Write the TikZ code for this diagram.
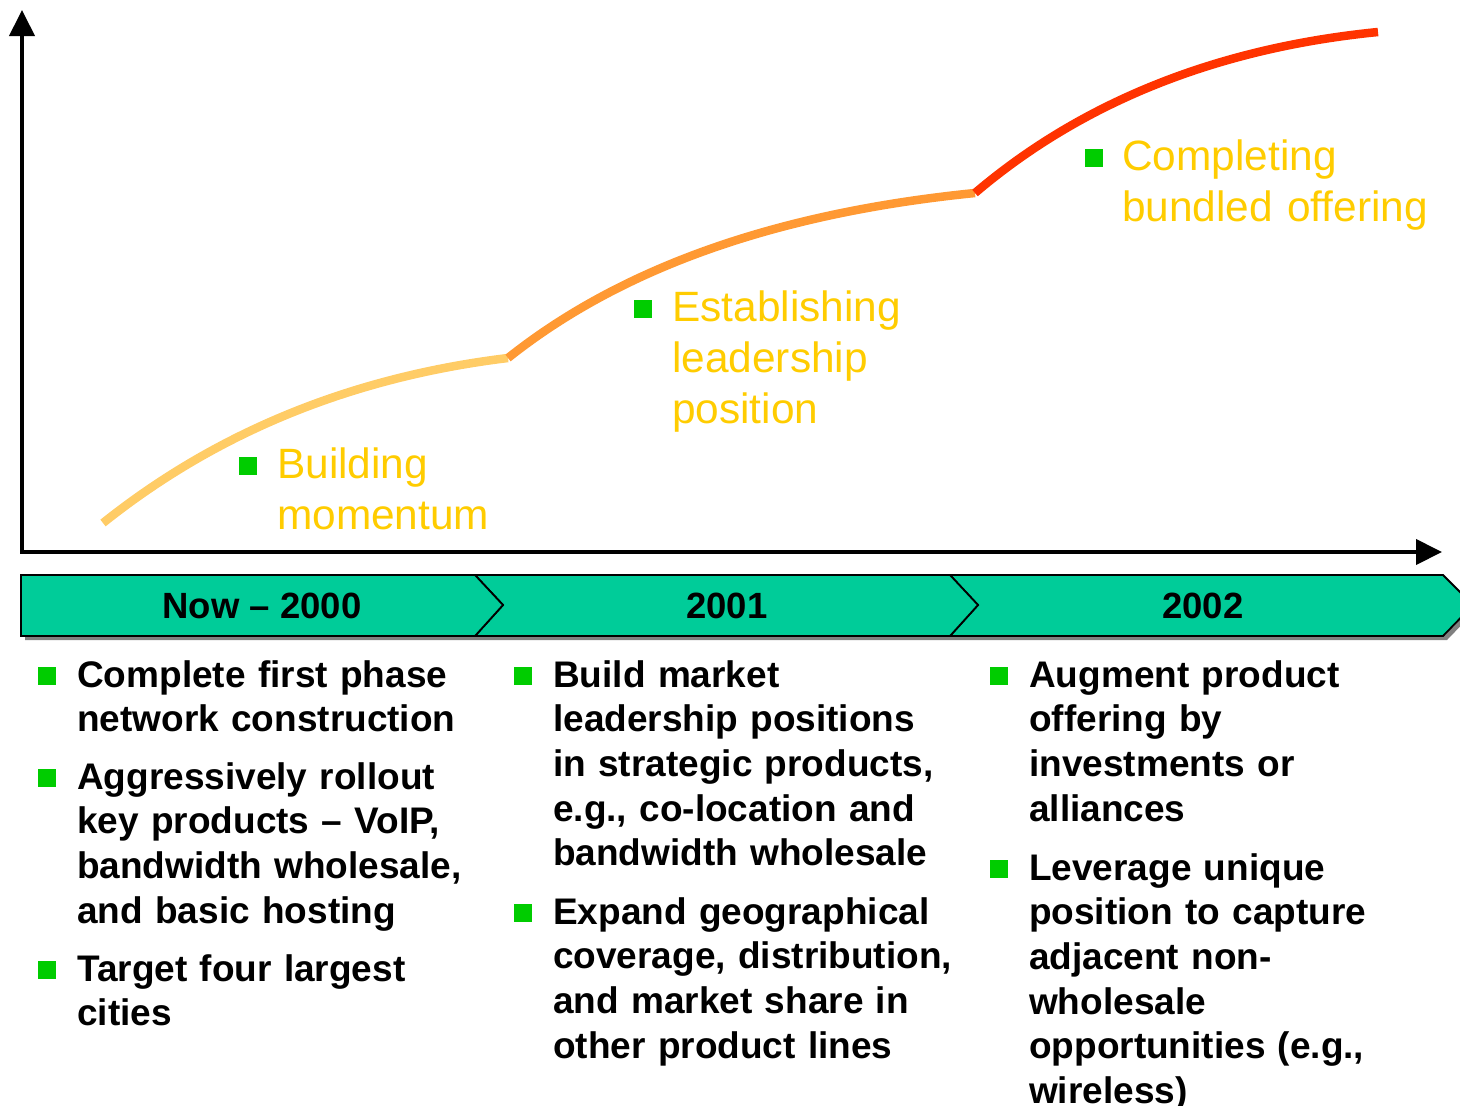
\documentclass[tikz,border=0pt]{standalone}
\usepackage{fontspec}
\setmainfont{Liberation Sans}
\usetikzlibrary{arrows.meta}
\definecolor{bandteal}{HTML}{00CC99}
\definecolor{bulgreen}{HTML}{00CC00}
\definecolor{goldtxt}{HTML}{FFCC00}
\definecolor{curveA}{HTML}{FFCC66}
\definecolor{curveB}{HTML}{FF9933}
\definecolor{curveC}{HTML}{FF3300}
\definecolor{shadowgrey}{HTML}{808080}
\tikzset{
  axisline/.style={line width=4pt, -{Triangle[length=26pt,width=25pt]}},
  curveseg/.style={line width=8.5pt, line cap=butt},
  chev/.style={fill=bandteal, draw=black, line width=1.8pt, line join=miter},
  chevshadow/.style={fill=shadowgrey, draw=none},
  hdr/.style={font=\bfseries\fontsize{36.5}{40}\selectfont, inner sep=0pt},
  goldlbl/.style={font=\fontsize{42.4}{51}\selectfont, text=goldtxt, inner sep=0pt, text width=500pt, align=left, anchor=base west},
  bodytxt/.style={font=\bfseries\fontsize{37}{44.7}\selectfont, inner sep=0pt, text width=440pt, align=left, anchor=base west},
  gbullet/.style={fill=bulgreen, draw=none, minimum size=18pt, inner sep=0pt},
}
\begin{document}
\begin{tikzpicture}[x=1pt,y=-1pt]
\useasboundingbox (0,0) rectangle (1460,1106);
\clip (0,0) rectangle (1460,1106);
% axes
\coordinate (origin) at (22,552);
\coordinate (ytop) at (22,10);
\coordinate (xend) at (1442,552);
\draw[axisline] ([yshift=2pt]origin) -- (ytop);
\draw[axisline] ([xshift=-2pt]origin) -- (xend);
% curve
\coordinate (s0) at (103,523);
\coordinate (s1) at (508,358);
\coordinate (s2) at (975,193);
\coordinate (s3) at (1378,32);
\draw[curveseg, curveA] (s0) .. controls (217,432) and (352,377) .. (s1);
\draw[curveseg, curveB] (s1) .. controls (621,268) and (776,213) .. (s2);
\draw[curveseg, curveC] (s2) .. controls (1082,102) and (1217,48) .. (s3);
% gold labels
\node[gbullet] (gb1) at (247.5,465.5) {};
\node[goldlbl] (lbl1) at (277,478) {Building\\momentum};
\node[gbullet] (gb2) at (643,309) {};
\node[goldlbl] (lbl2) at (672,321) {Establishing\\leadership\\position};
\node[gbullet] (gb3) at (1094,158) {};
\node[goldlbl] (lbl3) at (1122,170) {Completing\\bundled offering};
% band shadow
\begin{scope}[shift={(4,4)}]
\fill[chevshadow] (21,575) -- (1443,575) -- (1473,605) -- (1443,636) -- (21,636) -- cycle;
\end{scope}
% band chevrons
\draw[chev] (950,575) -- (1443,575) -- (1473,605) -- (1443,636) -- (950,636) -- (978,605) -- cycle;
\draw[chev] (475,575) -- (950,575) -- (978,605) -- (950,636) -- (475,636) -- (503,605) -- cycle;
\draw[chev] (21,575) -- (475,575) -- (503,605) -- (475,636) -- (21,636) -- cycle;
\node[hdr] (h1) at (262,606) {Now – 2000};
\node[hdr] (h2) at (727,606) {2001};
\node[hdr] (h3) at (1203,606) {2002};
% column 1
\node[gbullet] (b11) at (47,676) {};
\node[bodytxt] (t11) at (77,687) {Complete first phase\\network construction};
\node[gbullet] (b12) at (47,778) {};
\node[bodytxt] (t12) at (77,789) {Aggressively rollout\\key products – VoIP,\\bandwidth wholesale,\\and basic hosting};
\node[gbullet] (b13) at (47,970) {};
\node[bodytxt] (t13) at (77,981) {Target four largest\\cities};
% column 2
\node[gbullet] (b21) at (523,676) {};
\node[bodytxt] (t21) at (553,687) {Build market\\leadership positions\\in strategic products,\\e.g., co-location and\\bandwidth wholesale};
\node[gbullet] (b22) at (523,913) {};
\node[bodytxt] (t22) at (553,924) {Expand geographical\\coverage, distribution,\\and market share in\\other product lines};
% column 3
\node[gbullet] (b31) at (999,676) {};
\node[bodytxt] (t31) at (1029,687) {Augment product\\offering by\\investments or\\alliances};
\node[gbullet] (b32) at (999,869) {};
\node[bodytxt] (t32) at (1029,880) {Leverage unique\\position to capture\\adjacent non-\\wholesale\\opportunities (e.g.,\\wireless)};
\end{tikzpicture}
\end{document}
